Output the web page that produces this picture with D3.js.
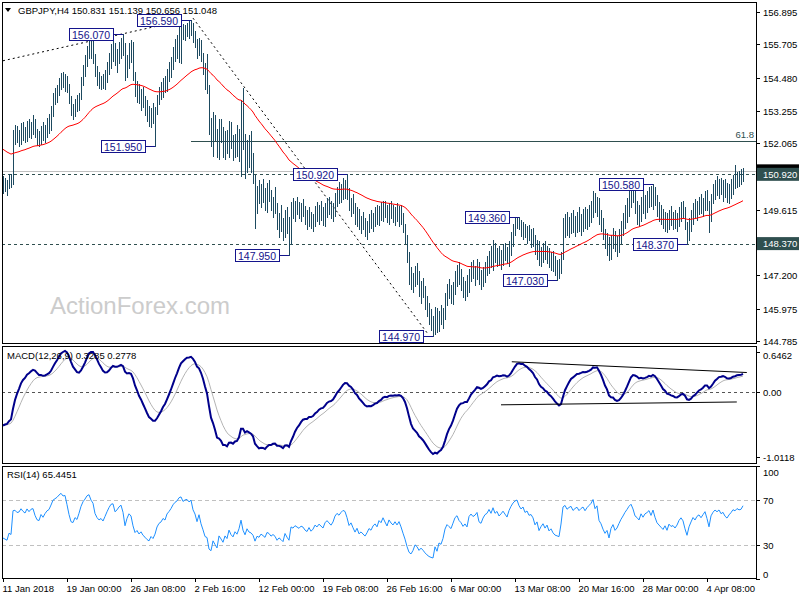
<!DOCTYPE html>
<html><head><meta charset="utf-8">
<script src="https://cdn.jsdelivr.net/npm/d3@7/dist/d3.min.js"></script>
<style>
body{margin:0;background:#fff}
svg{display:block}
text{font-family:"Liberation Sans",Arial,sans-serif}
</style>
</head><body>
<svg id="c" width="800" height="600"></svg>
<script>
// ---------------- DATA ----------------
const symbolTitle = "GBPJPY,H4 150.831 151.139 150.656 151.048";
const highs = [
150.85,150.80,150.70,150.95,150.95,152.55,
152.75,152.70,152.55,152.80,152.85,152.65,152.90,152.95,152.85,153.10,152.95,152.60,152.50,152.70,152.85,152.75,153.00,153.15,153.45,
153.90,154.10,154.20,154.45,154.65,154.70,154.60,154.55,154.25,153.80,153.50,153.70,153.85,153.90,154.50,154.95,155.30,155.65,155.85,
155.95,155.85,155.35,154.90,154.70,154.55,154.60,154.75,155.05,155.40,155.70,155.85,155.75,155.55,155.80,155.95,156.07,155.75,
155.30,155.75,155.85,155.80,154.70,
154.35,154.25,154.05,154.15,153.80,153.65,153.45,153.35,153.55,153.40,
153.85,154.15,154.30,154.45,154.55,154.80,155.05,155.25,155.60,155.90,156.05,156.35,156.50,156.45,156.40,156.50,156.55,156.59,
156.50,156.20,155.90,155.95,155.85,155.40,155.00,155.35,
154.20,153.00,153.20,153.10,152.60,152.95,152.95,152.65,152.50,152.55,152.90,152.85,152.35,152.40,152.75,152.60,153.65,154.10,152.40,152.20,152.35,152.50,
151.70,150.90,150.50,150.70,150.55,150.75,150.40,150.60,150.70,150.35,150.10,150.45,149.85,149.50,149.80,149.30,149.60,149.70,149.35,149.90,
150.05,149.95,150.10,149.90,149.85,150.00,149.75,149.60,149.70,149.55,149.45,149.75,149.90,149.80,149.95,149.70,149.85,150.05,150.10,149.95,149.85,150.25,150.45,150.65,150.55,150.80,150.70,150.92,
150.40,150.05,150.20,149.85,149.70,149.65,149.40,149.55,149.30,149.20,149.45,149.60,149.50,149.70,149.80,149.75,149.90,149.95,149.95,149.80,149.85,149.95,149.80,149.70,149.85,149.75,149.80,149.50,
149.10,148.70,148.05,147.50,147.30,147.55,147.65,147.35,147.00,147.10,146.80,146.45,146.20,145.95,145.70,146.05,146.00,
145.90,146.10,146.00,146.55,146.90,147.05,146.85,146.95,147.35,147.60,147.70,147.45,147.15,147.00,147.20,
147.45,147.70,147.75,147.55,147.80,147.70,147.40,147.50,147.70,147.90,148.10,148.30,148.50,148.40,148.20,148.30,148.15,148.35,148.40,148.25,148.45,148.80,149.10,
149.30,149.35,149.36,149.25,149.15,149.10,149.00,149.05,148.90,148.95,148.70,148.50,148.45,148.25,148.40,148.45,148.30,148.20,148.05,148.10,147.90,147.75,147.80,
148.05,149.30,149.45,149.55,149.35,149.50,149.60,149.40,149.55,149.70,149.45,149.65,149.70,149.65,149.80,149.95,150.30,150.25,150.10,150.05,149.60,
149.30,148.90,148.75,148.60,148.70,148.95,148.85,148.65,148.90,149.20,149.50,149.80,150.05,150.35,150.55,150.60,150.30,149.95,
149.80,150.10,150.35,150.15,150.30,150.45,150.50,150.58,150.45,150.15,
149.90,149.80,149.65,149.55,149.50,149.60,149.75,149.55,149.60,149.50,149.70,149.90,149.95,149.70,149.15,149.30,149.60,
149.85,150.00,149.95,150.10,150.20,150.05,150.30,150.35,149.95,150.20,150.55,150.70,150.85,150.75,150.80,150.70,150.75,150.60,150.55,150.75,150.90,151.25,151.00,151.05,151.10,151.14
];
const lows = [
150.25,150.30,150.15,150.40,150.45,150.55,
152.05,152.10,151.95,152.05,152.20,152.10,152.15,152.30,152.25,152.40,152.30,152.00,151.95,152.05,152.20,152.10,152.30,152.45,152.55,
153.05,153.50,153.60,153.85,154.05,154.15,154.00,153.95,153.55,153.10,152.95,153.05,153.25,153.30,153.70,154.20,154.55,154.90,155.20,
155.20,155.00,154.55,154.20,154.10,154.05,154.10,154.05,154.30,154.60,154.85,155.10,154.95,154.70,155.00,155.20,155.30,154.40,
154.50,154.85,155.05,154.40,153.80,
153.60,153.55,153.30,153.40,153.10,152.90,152.70,152.65,152.80,151.95,
153.15,153.50,153.70,153.75,153.95,154.00,154.35,154.50,154.80,155.10,155.20,155.05,155.00,155.90,155.85,156.00,155.95,156.05,
155.80,155.60,155.20,155.30,155.10,154.60,154.05,153.90,
152.40,151.95,151.60,152.20,151.55,151.50,152.10,151.55,151.50,151.70,151.55,151.90,151.45,151.55,151.60,151.40,150.85,151.85,150.80,151.00,151.20,151.00,
150.60,148.95,149.50,149.85,149.70,149.90,149.60,149.55,149.95,149.60,149.35,149.50,148.90,148.60,148.85,148.50,148.60,148.75,147.95,148.35,
149.30,149.20,149.45,149.30,149.20,149.40,149.10,148.90,149.00,148.95,148.85,149.00,149.20,149.10,149.25,149.05,149.00,149.35,149.45,149.30,149.20,149.40,149.75,149.85,149.90,150.00,150.05,150.00,
149.60,149.40,149.50,149.10,149.00,148.90,148.75,148.90,148.65,148.55,148.80,148.95,148.85,149.00,149.10,149.05,149.25,149.20,149.35,149.15,149.10,149.30,149.15,149.05,149.20,149.00,149.10,148.80,
148.40,147.70,146.90,146.70,146.60,146.80,146.90,146.45,146.20,146.40,145.95,145.70,145.40,145.20,144.97,145.05,145.10,
145.15,145.40,145.25,145.60,146.10,146.35,146.20,146.15,146.50,146.80,146.90,146.65,146.40,146.30,146.45,
146.60,147.00,147.10,146.85,147.05,146.90,146.70,146.80,146.95,147.20,147.30,147.50,147.40,147.70,147.55,147.60,147.45,147.60,147.75,147.65,147.55,147.95,148.30,
148.70,148.95,148.90,148.65,148.55,148.60,148.40,148.50,148.25,148.30,148.00,147.80,147.60,147.55,147.70,147.80,147.65,147.50,147.40,147.35,147.20,147.03,147.10,
147.30,147.80,148.60,148.70,148.60,148.75,148.80,148.65,148.80,148.85,148.70,148.85,148.95,148.90,149.00,149.15,149.35,149.55,149.40,149.10,148.85,
148.55,148.20,147.95,147.75,147.80,148.20,148.10,147.90,148.05,148.40,148.70,148.95,149.15,149.40,149.70,149.90,149.50,149.10,
149.00,149.20,149.50,149.30,149.55,149.70,149.75,149.65,149.80,149.40,
149.20,149.10,148.95,148.85,148.80,148.90,149.05,148.90,148.95,148.85,149.00,149.20,149.30,148.90,148.37,148.50,148.85,
149.10,149.30,149.25,149.45,149.50,149.40,149.60,149.60,148.80,149.20,149.85,150.00,150.15,150.05,150.20,149.95,150.10,149.90,149.85,150.05,150.20,150.40,150.45,150.50,150.55,150.66
];
const closes = [
150.55,150.45,150.35,150.70,150.60,152.35,
152.40,152.25,152.30,152.60,152.45,152.35,152.70,152.55,152.75,152.80,152.45,152.20,152.15,152.55,152.40,152.65,152.85,152.95,153.30,
153.75,153.90,154.05,154.30,154.50,154.40,154.45,154.10,153.65,153.25,153.20,153.50,153.40,153.80,154.35,154.80,155.10,155.50,155.65,
155.40,155.25,154.70,154.45,154.30,154.40,154.25,154.55,154.90,155.25,155.55,155.60,155.20,155.35,155.60,155.75,155.40,154.55,
155.10,155.50,155.35,154.60,153.95,
154.10,153.75,153.90,153.55,153.35,153.10,152.95,153.20,153.00,153.25,
153.70,153.95,154.05,154.30,154.20,154.65,154.85,155.10,155.45,155.70,155.85,156.20,156.30,156.10,156.25,156.30,156.20,156.35,
155.95,155.75,155.35,155.80,155.25,154.80,154.20,154.10,
152.60,152.30,152.95,152.40,151.80,152.75,152.30,151.75,152.30,151.90,152.70,152.05,151.70,152.20,151.85,152.40,153.40,152.00,151.20,151.95,151.40,151.25,
150.85,149.70,150.25,150.05,150.40,150.15,149.85,150.35,150.20,149.80,149.95,149.70,149.10,149.30,149.05,148.75,149.40,148.90,148.45,149.70,
149.55,149.80,149.65,149.50,149.70,149.60,149.30,149.15,149.45,149.10,149.25,149.55,149.40,149.60,149.45,149.30,149.65,149.80,149.65,149.50,149.70,150.10,150.30,150.20,150.40,150.55,150.50,150.20,
149.75,149.90,149.60,149.30,149.50,149.10,149.20,149.05,148.90,149.05,149.25,149.15,149.35,149.45,149.30,149.60,149.50,149.75,149.55,149.35,149.65,149.50,149.40,149.55,149.40,149.55,149.30,148.95,
148.55,147.90,147.20,146.95,147.10,147.35,147.15,146.70,146.80,146.55,146.20,145.90,145.65,145.50,145.40,145.85,145.30,
145.70,145.55,145.85,146.40,146.70,146.55,146.40,146.75,147.15,147.30,147.00,146.85,146.60,146.75,146.55,
147.25,147.45,147.30,147.40,147.60,147.05,146.95,147.30,147.55,147.65,147.95,147.75,148.20,147.90,148.05,147.80,147.95,148.15,148.00,147.85,148.30,148.65,148.95,
149.15,149.25,149.00,148.85,149.00,148.75,148.85,148.65,148.70,148.55,148.20,148.35,147.85,148.05,148.20,147.95,148.10,147.75,147.85,147.60,147.45,147.40,147.35,
147.90,149.10,149.25,149.05,149.20,149.30,149.10,149.25,149.35,149.20,149.35,149.45,149.30,149.50,149.65,149.80,150.10,149.75,149.95,149.25,149.05,
148.70,148.40,148.55,147.95,148.50,148.75,148.30,148.45,148.75,149.05,149.30,149.60,149.85,150.15,150.35,150.10,149.70,149.60,
149.45,149.90,149.70,149.95,150.05,150.20,149.95,150.35,149.95,149.60,
149.45,149.30,149.15,149.35,149.05,149.40,149.25,149.30,149.15,149.30,149.55,149.70,149.55,149.10,148.65,149.10,149.40,
149.70,149.55,149.80,149.90,149.75,149.95,150.15,149.80,149.30,150.05,150.35,150.55,150.45,150.60,150.40,150.50,150.30,150.20,150.40,150.55,150.75,150.70,150.85,150.80,150.83,151.05
];
// indicator state carried in from bars before the visible window
const ema55Start = 151.89;
const macdSeed = {ema12: 150.75, ema26: 151.28, signal: -0.50};
const rsiSeed = {prevClose: 150.60, avgGain: 0.11, avgLoss: 0.19};
const macdTitle = "MACD(12,26,9) 0.3285 0.2778";
const rsiTitle = "RSI(14) 65.4451";
const priceTicks = [156.895,155.705,154.480,153.255,152.065,149.615,147.200,145.975,144.785];
const macdTicks = [0.6462, 0.00, -1.0118];
const macdTickLabels = ["0.6462","0.00","-1.0118"];
const rsiTicks = [100,70,30,0];
const dateTickIdx = [0,32,64,96,128,160,192,224,256,288,320,352];
const dateLabels = ["11 Jan 2018","19 Jan 00:00","26 Jan 08:00","2 Feb 16:00","12 Feb 00:00","19 Feb 08:00","26 Feb 16:00","6 Mar 00:00","13 Mar 08:00","20 Mar 16:00","28 Mar 00:00","4 Apr 08:00"];
const swingLabels = [
 {t:"156.070", i:60, p:156.07},
 {t:"156.590", i:94, p:156.59},
 {t:"151.950", i:76, p:151.95},
 {t:"147.950", i:143, p:147.95},
 {t:"150.920", i:172, p:150.92},
 {t:"144.970", i:215, p:144.97},
 {t:"149.360", i:258, p:149.36},
 {t:"147.030", i:277, p:147.03},
 {t:"150.580", i:325, p:150.58},
 {t:"148.370", i:342, p:148.37}
];
const hLevels = [150.92, 148.37];
const bidPrice = 151.048;
const fibLevel = {p:152.151, i0:94, label:"61.8"};
const trendPrice = [ {i0:0, p0:155.10, i1:90, p1:156.59}, {i0:95, p0:156.67, i1:212.5, p1:145.04} ];
const trendMacd = [ {i0:254.4, v0:0.50, i1:371.9, v1:0.33}, {i0:249, v0:-0.18, i1:366.9, v1:-0.135} ];

// ---------------- INDICATORS ----------------
const N = closes.length;
const ema55 = []; { let e = ema55Start; closes.forEach(c => { e += (c - e) * 2 / 56; ema55.push(e); }); }
const macd = [], signal = [];
{ let e12 = macdSeed.ema12, e26 = macdSeed.ema26, s = macdSeed.signal;
  closes.forEach(c => { e12 += (c - e12) * 2 / 13; e26 += (c - e26) * 2 / 27; const m = e12 - e26; s += (m - s) * 2 / 10; macd.push(m); signal.push(s); }); }
const rsi = [];
{ let pc = rsiSeed.prevClose, g = rsiSeed.avgGain, l = rsiSeed.avgLoss;
  closes.forEach(c => { const d = c - pc; g = (g * 13 + Math.max(d, 0)) / 14; l = (l * 13 + Math.max(-d, 0)) / 14; pc = c; rsi.push(100 - 100 / (1 + g / l)); }); }

// ---------------- LAYOUT ----------------
const L = 2, R = 756;
const P = {top:2, bot:343}, M = {top:346, bot:463}, Q = {top:466, bot:578};
const svg = d3.select("#c");
const x = d3.scaleLinear().domain([0, N - 1]).range([3, 3 + 2 * (N - 1)]);
const yP = d3.scaleLinear().domain([144.785, 156.895]).range([341, 12]);
const yM = d3.scaleLinear().domain([-1.0118, 0.6462]).range([457.5, 352.5]);
const yR = d3.scaleLinear().domain([0, 100]).range([578.75, 466.25]);

const defs = svg.append("defs");
[["cp",P],["cm",M],["cr",Q]].forEach(([id,b]) => defs.append("clipPath").attr("id", id)
  .append("rect").attr("x", L).attr("y", b.top).attr("width", R - L).attr("height", b.bot - b.top));
const ybid = yP(bidPrice);
defs.append("clipPath").attr("id", "cbid").append("rect").attr("x", R).attr("y", ybid - 7).attr("width", 44).attr("height", 3.5);

const BAR = "#1d4a60", SLATE = "#2f4f4f", NAVY = "#14148c";
const gP = svg.append("g").attr("clip-path", "url(#cp)");
const gM = svg.append("g").attr("clip-path", "url(#cm)");
const gR = svg.append("g").attr("clip-path", "url(#cr)");

// watermark
gP.append("text").attr("x", 50).attr("y", 314).attr("font-size", 24).attr("fill", "#cccccc").text("ActionForex.com");

// horizontal levels
gP.append("line").attr("x1", L).attr("x2", R).attr("y1", Math.round(ybid) + 0.5).attr("y2", Math.round(ybid) + 0.5)
  .attr("stroke", "#c0c0c0");
hLevels.forEach(p => gP.append("line").attr("x1", L).attr("x2", R)
  .attr("y1", Math.round(yP(p)) + 0.5).attr("y2", Math.round(yP(p)) + 0.5)
  .attr("stroke", SLATE).attr("stroke-dasharray", "3,3"));
const fy = Math.round(yP(fibLevel.p)) + 0.5;
gP.append("line").attr("x1", x(fibLevel.i0)).attr("x2", R).attr("y1", fy).attr("y2", fy).attr("stroke", SLATE);
gP.append("text").attr("x", R - 2).attr("y", fy - 4).attr("text-anchor", "end").attr("font-size", 9.5).attr("fill", SLATE).text(fibLevel.label);

// trend lines
trendPrice.forEach(t => gP.append("line").attr("x1", x(t.i0)).attr("y1", yP(t.p0)).attr("x2", x(t.i1)).attr("y2", yP(t.p1))
  .attr("stroke", "#000").attr("stroke-dasharray", "2,3"));

// bars
gP.append("g").selectAll("line").data(closes).join("line")
  .attr("x1", (d, i) => Math.round(x(i)) + 0.5).attr("x2", (d, i) => Math.round(x(i)) + 0.5)
  .attr("y1", (d, i) => Math.round(yP(highs[i]))).attr("y2", (d, i) => Math.round(yP(lows[i])) + 1)
  .attr("stroke", BAR).attr("stroke-width", 1);

// EMA
gP.append("path").datum(ema55).attr("fill", "none").attr("stroke", "#ff0000").attr("stroke-width", 1)
  .attr("d", d3.line().x((d, i) => x(i)).y(d => yP(d)));

// swing labels
swingLabels.forEach(s => {
  const bx = x(s.i), yy = Math.round(yP(s.p)) + 0.5;
  const g = svg.append("g");
  const t = g.append("text").attr("font-size", 10.5).attr("fill", NAVY).attr("text-anchor", "end").text(s.t);
  const w = t.node().getComputedTextLength();
  const right = bx - 10;
  g.insert("rect", "text").attr("x", Math.round(right - w - 6) + 0.5).attr("y", yy - 6).attr("width", Math.round(w + 6)).attr("height", 12)
    .attr("fill", "#fff").attr("stroke", NAVY);
  t.attr("x", right - 3).attr("y", yy + 4);
  g.append("line").attr("x1", right).attr("x2", bx).attr("y1", yy).attr("y2", yy).attr("stroke", NAVY);
});

// MACD
gM.append("line").attr("x1", L).attr("x2", R).attr("y1", Math.round(yM(0)) - 0.5).attr("y2", Math.round(yM(0)) - 0.5)
  .attr("stroke", "#555").attr("stroke-dasharray", "3,3");
gM.append("path").datum(signal).attr("fill", "none").attr("stroke", "#b4b4b4").attr("stroke-width", 1)
  .attr("d", d3.line().x((d, i) => x(i)).y(d => yM(d)));
gM.append("path").datum(macd).attr("fill", "none").attr("stroke", "#00008b").attr("stroke-width", 2)
  .attr("d", d3.line().x((d, i) => x(i)).y(d => yM(d)));
trendMacd.forEach(t => gM.append("line").attr("x1", x(t.i0)).attr("y1", yM(t.v0)).attr("x2", x(t.i1)).attr("y2", yM(t.v1))
  .attr("stroke", "#000").attr("stroke-width", 1));
svg.append("text").attr("x", 7).attr("y", 359).attr("font-size", 9.5).attr("fill", "#000").text(macdTitle);

// RSI
[70, 30].forEach(v => gR.append("line").attr("x1", L).attr("x2", R).attr("y1", Math.round(yR(v)) + 0.5).attr("y2", Math.round(yR(v)) + 0.5)
  .attr("stroke", "#c0c0c0").attr("stroke-dasharray", "4,3"));
gR.append("path").datum(rsi).attr("fill", "none").attr("stroke", "#1e90ff").attr("stroke-width", 1)
  .attr("d", d3.line().x((d, i) => x(i)).y(d => yR(d)));
svg.append("text").attr("x", 7).attr("y", 478).attr("font-size", 9.5).attr("fill", "#000").text(rsiTitle);

// frames
[P, M, Q].forEach(b => svg.append("rect").attr("x", L + 0.5).attr("y", b.top + 0.5).attr("width", R - L).attr("height", b.bot - b.top)
  .attr("fill", "none").attr("stroke", "#000"));

// header
svg.append("path").attr("d", "M5,8 L11,8 L8,12 Z").attr("fill", "#000");
svg.append("text").attr("x", 18).attr("y", 14).attr("font-size", 9.5).attr("fill", "#000").text(symbolTitle);

// right price axis
const ax = svg.append("g").attr("font-size", 9.5).attr("fill", "#000");
priceTicks.forEach(p => {
  const yy = Math.round(yP(p)) + 0.5;
  ax.append("line").attr("x1", R).attr("x2", R + 4).attr("y1", yy).attr("y2", yy).attr("stroke", "#000");
  ax.append("text").attr("x", 763).attr("y", yy + 3.5).text(p.toFixed(3));
});
// bid label (black, mostly hidden) and level labels (slate)
{
  ax.append("rect").attr("x", R + 1).attr("y", ybid - 6.5).attr("width", 42).attr("height", 13).attr("fill", "#000");
  ax.append("text").attr("clip-path", "url(#cbid)").attr("x", 763).attr("y", ybid + 3.5).attr("fill", "#fff").text(bidPrice.toFixed(3));
  hLevels.forEach(p => {
    const yy = yP(p);
    ax.append("rect").attr("x", R + 1).attr("y", yy - 6.5).attr("width", 42).attr("height", 13).attr("fill", SLATE);
    ax.append("text").attr("x", 763).attr("y", yy + 3.5).attr("fill", "#fff").text(p.toFixed(3));
  });
}
// MACD axis
macdTicks.forEach((v, k) => {
  const yy = Math.round(yM(v)) - 0.5;
  ax.append("line").attr("x1", R).attr("x2", R + 4).attr("y1", yy).attr("y2", yy).attr("stroke", "#000");
  const ty = k === 0 ? yy + 6.5 : (k === 2 ? yy + 3 : yy + 3.5);
  ax.append("text").attr("x", 763).attr("y", ty).text(macdTickLabels[k]);
});
// RSI axis
rsiTicks.forEach(v => {
  const yy = Math.round(yR(v)) + 0.5;
  ax.append("line").attr("x1", R).attr("x2", R + 4).attr("y1", yy).attr("y2", yy).attr("stroke", "#000");
  const ty = v === 100 ? yy + 9 : (v === 0 ? yy - 2 : yy + 3.5);
  ax.append("text").attr("x", 763).attr("y", ty).text(v);
});
// date axis
dateTickIdx.forEach((idx, k) => {
  const xx = Math.round(x(idx)) + 0.5;
  ax.append("line").attr("x1", xx).attr("x2", xx).attr("y1", Q.bot).attr("y2", Q.bot + 4).attr("stroke", "#000");
  ax.append("text").attr("x", xx - 1).attr("y", 592).text(dateLabels[k]);
});
</script>
</body></html>
